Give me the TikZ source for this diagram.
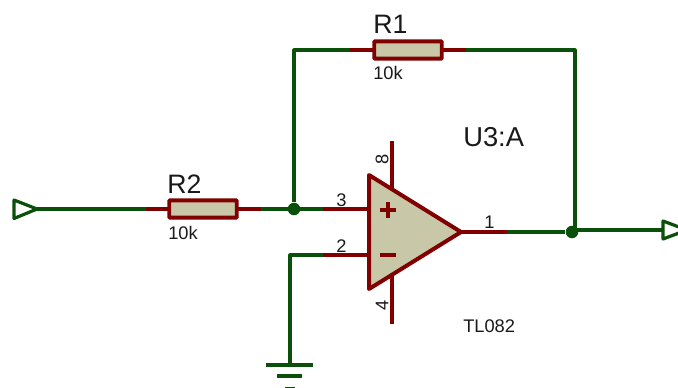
\documentclass[tikz,border=0pt]{standalone}
\usepackage{fontspec}
\setmainfont{Liberation Sans}
\definecolor{wirec}{RGB}{10,80,10}
\definecolor{pinc}{RGB}{128,0,0}
\definecolor{bodyc}{RGB}{200,200,168}
\definecolor{textc}{RGB}{25,25,25}
\tikzset{
  wire/.style={draw=wirec,line width=2.4pt,line join=round},
  pinw/.style={draw=pinc,line width=2.4pt},
  resbox/.style={draw=pinc,fill=bodyc,line width=2.9pt,rounded corners=0.6pt,inner sep=0pt,outer sep=0pt,minimum width=50.6pt,minimum height=13pt},
  dotj/.style={circle,fill=wirec,inner sep=0pt,minimum size=9.4pt},
  lbl/.style={inner sep=0pt,text=textc,anchor=base west},
  big/.style={lbl,font=\fontsize{20}{22}\selectfont},
  small/.style={lbl,font=\fontsize{13.7}{15}\selectfont},
  term/.style={draw=wirec,line width=2.4pt,line join=round,fill=white},
  opbody/.style={draw=pinc,fill=bodyc,line width=3pt,line join=round},
}
\begin{document}
\begin{tikzpicture}[x=0.75pt,y=-0.75pt]
\useasboundingbox (0,0) rectangle (678,387);
\clip (0,0) rectangle (678,387);
% key points
\coordinate (inA) at (14,200); \coordinate (inTip) at (37,209); \coordinate (inB) at (14,218.5);
\coordinate (r2L) at (146,209); \coordinate (r2R) at (261,209);
\coordinate (r1L) at (350,50); \coordinate (r1R) at (466,50);
\coordinate (tl) at (294,50); \coordinate (tr) at (575,50);
\coordinate (p3) at (323,209); \coordinate (p2) at (323,255);
\coordinate (opT) at (369,175); \coordinate (opO) at (461,232); \coordinate (opB) at (369,289);
\coordinate (p3i) at (369,209); \coordinate (p2i) at (369,255);
\coordinate (p1) at (507,232);
\coordinate (p8a) at (392,141); \coordinate (p8b) at (392,195);
\coordinate (p4a) at (392,270); \coordinate (p4b) at (392,324);
\coordinate (gc) at (290,255); \coordinate (gd) at (290,365);
\coordinate (g1a) at (266,365); \coordinate (g1b) at (313,365);
\coordinate (g2a) at (277,376); \coordinate (g2b) at (302,376);
\coordinate (g3a) at (285,389); \coordinate (g3b) at (295,389);
\coordinate (outA) at (663,221); \coordinate (outTip) at (687,230); \coordinate (outB) at (663,239);
\coordinate (outS) at (572,230);
\coordinate (vb) at (575,232);
% junctions and bodies
\node[resbox] (R2) at (203,209) {};
\node[resbox] (R1) at (408,50) {};
\node[dotj] (j1) at (294,209) {};
\node[dotj] (j2) at (572,232) {};
% wires
\draw[wire] (inTip) -- (r2L);
\draw[wire] (r2R) -- (p3);
\draw[wire] (j1) -- (tl) -- (r1L);
\draw[wire] (r1R) -- (tr) -- (vb);
\draw[wire] (p1) -- (j2);
\draw[wire] (outS) -- (outA |- outS);
\draw[wire] (p2) -- (gc) -- (gd);
\draw[wire] (g1a) -- (g1b);
\draw[wire] (g2a) -- (g2b);
\draw[wire] (g3a) -- (g3b);
% pins
\draw[pinw] (r2L) -- (R2.west);
\draw[pinw] (R2.east) -- (r2R);
\draw[pinw] (r1L) -- (R1.west);
\draw[pinw] (R1.east) -- (r1R);
\draw[pinw] (p3) -- (p3i);
\draw[pinw] (p2) -- (p2i);
\draw[pinw] (opO) -- (p1);
\draw[pinw] (p8a) -- (p8b);
\draw[pinw] (p4a) -- (p4b);
% op amp
\draw[opbody] (opT) -- (opO) -- (opB) -- cycle;
\draw[pinc,line width=2.6pt] (380,210) -- (396,210) (388,202) -- (388,218);
\draw[pinc,line width=2.6pt] (380,255) -- (396,255);
% terminals
\draw[term] (inA) -- (inTip) -- (inB) -- cycle;
\draw[term] (outA) -- (outTip) -- (outB) -- cycle;
% text
\node[big] (tR1) at (373,33) {R1};
\node[big] (tR2) at (167,193) {R2};
\node[small] (v1) at (373,79) {10k};
\node[small] (v2) at (168,239) {10k};
\node[lbl,font=\fontsize{20.5}{22}\selectfont] (tU) at (463,146) {U3:A};
\node[small] (tTL) at (463,332) {TL082};
\node[small] (n3) at (336,206) {3};
\node[small] (n2) at (336,252) {2};
\node[small] (n1) at (484,228) {1};
\node[small,rotate=90,anchor=center] (n8) at (382,159) {8};
\node[small,rotate=90,anchor=center] (n4) at (382,305) {4};
\end{tikzpicture}
\end{document}
